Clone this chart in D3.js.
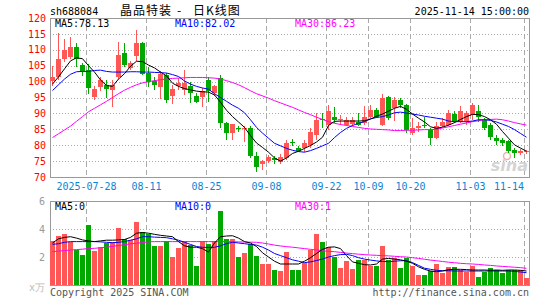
<!DOCTYPE html>
<html>
<head>
<meta charset="utf-8">
<script src="https://cdn.jsdelivr.net/npm/d3@7"></script>
<style>
  body { margin: 0; background: #fff; }
  text { font-family: "DejaVu Sans Mono", monospace; font-size: 10px; }
</style>
</head>
<body>
<script>
// daily K line, sh688084, 2025-07-18 .. 2025-11-14
var dates = [
  "2025-07-18","2025-07-21","2025-07-22","2025-07-23","2025-07-24","2025-07-25","2025-07-28","2025-07-29","2025-07-30","2025-07-31",
  "2025-08-01","2025-08-04","2025-08-05","2025-08-06","2025-08-07","2025-08-08","2025-08-11","2025-08-12","2025-08-13","2025-08-14",
  "2025-08-15","2025-08-18","2025-08-19","2025-08-20","2025-08-21","2025-08-22","2025-08-25","2025-08-26","2025-08-27","2025-08-28",
  "2025-08-29","2025-09-01","2025-09-02","2025-09-03","2025-09-04","2025-09-05","2025-09-08","2025-09-09","2025-09-10","2025-09-11",
  "2025-09-12","2025-09-15","2025-09-16","2025-09-17","2025-09-18","2025-09-19","2025-09-22","2025-09-23","2025-09-24","2025-09-25",
  "2025-09-26","2025-09-29","2025-09-30","2025-10-09","2025-10-10","2025-10-13","2025-10-14","2025-10-15","2025-10-16","2025-10-17",
  "2025-10-20","2025-10-21","2025-10-22","2025-10-23","2025-10-24","2025-10-27","2025-10-28","2025-10-29","2025-10-30","2025-10-31",
  "2025-11-03","2025-11-04","2025-11-05","2025-11-06","2025-11-07","2025-11-10","2025-11-11","2025-11-12","2025-11-13","2025-11-14"
];

var open = [100.2,101.6,107.2,107.7,110.9,105.3,103.5,95.1,98.4,98.8,
  97.5,101.5,109.0,104.2,108.0,112.2,102.7,100.3,98.3,102.0,
  95.5,98.6,97.4,98.5,95.5,95.1,100.5,96.4,101.0,86.9,
  83.8,85.5,85.0,85.3,76.6,74.1,75.0,75.9,74.8,75.9,
  81.0,79.0,79.0,80.1,83.2,88.2,86.4,89.0,87.8,86.5,
  86.6,87.2,87.0,89.0,91.1,86.5,95.3,91.6,94.3,92.7,
  83.8,85.3,86.4,84.8,82.2,86.1,86.4,89.8,87.4,87.5,
  89.5,90.6,88.0,86.4,82.4,81.7,81.3,78.5,77.7,77.9];
var high = [104.8,115.3,113.4,114.0,112.2,105.8,105.5,98.5,101.5,100.5,
  100.5,112.6,112.0,106.5,116.3,112.5,104.7,101.6,103.3,102.8,
  99.0,101.0,103.7,100.0,96.5,98.0,101.5,99.0,102.0,87.3,
  86.8,86.0,86.0,86.1,78.0,75.5,77.0,76.7,77.1,81.7,
  82.0,79.9,81.7,85.3,90.1,90.0,92.7,92.0,89.5,89.0,
  89.0,90.1,92.2,92.7,91.6,96.2,95.5,95.3,94.8,93.0,
  88.5,87.4,89.0,85.3,87.4,88.5,91.1,90.6,92.2,90.6,
  93.2,92.7,88.5,86.9,83.2,82.2,81.7,79.0,78.8,78.6];
var low = [98.7,100.6,106.3,107.0,104.5,101.7,96.0,94.3,97.2,95.0,
  92.0,100.8,104.5,103.5,106.5,102.0,98.4,97.4,94.5,93.3,
  93.0,97.5,95.8,93.2,93.3,92.0,93.5,95.5,85.3,81.5,
  81.5,84.0,81.0,76.0,71.7,72.3,74.3,74.0,74.0,75.3,
  79.8,78.0,78.0,79.0,81.7,85.3,84.8,87.0,86.4,85.9,
  86.0,85.9,86.4,88.5,88.5,85.9,88.0,87.5,91.6,83.8,
  83.2,84.3,85.3,80.1,82.0,85.8,85.9,86.9,86.9,86.4,
  88.0,87.4,84.8,81.7,80.0,79.6,77.4,75.9,76.9,77.1];
var close = [101.4,107.1,110.0,110.9,107.2,103.3,97.9,97.6,100.5,97.8,
  99.0,108.4,105.3,105.8,112.2,102.5,100.0,99.0,102.5,94.3,
  97.6,99.5,99.5,96.3,93.7,97.0,97.2,98.5,87.0,83.8,
  86.6,85.0,85.5,76.6,73.2,75.1,76.4,75.5,76.4,80.6,
  80.6,78.2,80.6,84.1,88.0,87.8,90.6,88.0,88.3,88.0,
  88.0,86.5,89.0,91.1,89.0,94.8,88.5,94.3,92.5,84.8,
  85.3,86.1,85.9,82.2,86.1,87.4,90.1,87.4,90.6,90.1,
  92.7,89.0,85.3,82.7,81.3,80.6,78.2,77.5,78.3,78.1];

// moving averages
var ma5 = [99.2,101.5,104.0,106.5,107.5,107.2,105.0,103.0,100.5,98.8,
  98.5,100.8,102.5,104.8,106.4,106.3,105.2,104.3,103.0,101.8,
  99.5,98.5,97.8,97.4,97.0,96.8,96.7,95.8,93.5,91.0,
  89.0,87.3,85.6,83.0,80.7,79.3,77.8,76.0,75.0,76.0,
  77.4,78.1,79.0,79.9,81.0,82.5,86.2,87.5,87.6,87.6,
  87.6,87.6,87.7,88.2,89.1,89.8,90.7,91.6,92.2,91.3,
  89.8,88.5,87.3,85.8,85.3,85.7,86.3,87.1,88.1,89.0,
  89.7,89.6,89.0,88.0,86.6,84.3,82.2,80.1,79.1,78.1];
var ma10 = [97.2,99.0,100.8,102.3,103.1,103.2,103.2,103.5,103.6,103.2,
  103.0,103.0,103.0,103.1,103.1,103.0,103.0,102.9,102.8,102.7,
  102.2,101.6,100.2,99.2,98.5,98.0,97.6,96.2,95.0,93.8,
  92.6,91.6,90.2,88.0,85.6,83.8,82.2,80.6,79.8,79.0,
  78.4,78.0,77.8,78.3,79.0,79.8,80.6,82.4,84.0,85.3,
  86.2,86.9,87.4,88.3,88.7,89.0,89.5,90.2,90.4,90.1,
  89.8,89.5,89.1,88.8,88.5,88.2,87.6,87.4,87.4,87.4,
  87.6,88.0,88.0,87.8,87.3,86.6,85.9,84.9,83.7,82.5];
var ma30 = [82.4,83.6,84.8,86.0,87.5,89.0,90.5,91.6,92.7,93.8,
  95.0,96.2,97.3,98.2,99.0,99.6,100.0,100.3,100.6,100.8,
  101.0,101.1,101.2,101.3,101.3,101.3,101.2,101.1,100.8,100.3,
  99.7,99.0,98.1,97.1,96.2,95.5,94.8,94.0,93.3,92.6,
  91.9,91.1,90.3,89.6,88.8,88.1,87.4,86.9,86.5,86.2,
  85.9,85.6,85.3,85.1,85.0,84.9,84.8,84.6,84.6,84.7,
  84.7,84.8,84.9,84.9,85.0,85.4,85.8,86.2,86.6,87.0,
  87.4,87.7,88.0,88.1,88.2,88.0,87.6,87.1,86.7,86.3];

// volume (x10k)
var volume = [3.14,3.5,3.64,3.1,2.5,2.14,4.29,2.43,2.74,2.98,
  3.1,4.1,3.26,3.21,4.52,3.76,3.64,2.79,2.79,3.14,
  2.02,2.62,3.14,2.86,1.38,3.14,2.93,3.14,5.31,3.29,
  3.29,2.02,2.31,2.9,2.09,1.5,1.5,1.07,1.0,2.38,
  1.1,1.07,1.55,2.5,3.64,3.05,2.74,2.02,1.24,1.71,
  1.14,1.79,1.76,1.36,1.38,2.81,1.79,1.9,1.24,1.9,
  1.38,0.71,0.71,1.0,1.48,0.83,1.26,1.3,1.1,0.95,
  1.36,0.55,0.9,1.25,1.07,0.85,1.07,1.07,1.07,0.52];
var vma5 = [3.0,3.3,3.4,3.45,3.35,3.22,3.15,3.1,3.15,3.2,
  3.2,3.22,3.25,3.4,3.7,3.75,3.7,3.62,3.55,3.5,
  3.45,3.1,2.8,2.7,2.7,2.6,2.35,3.0,3.45,3.5,
  3.52,3.35,3.1,3.0,2.75,2.3,2.0,1.7,1.5,1.5,
  1.5,1.5,1.7,1.95,2.25,2.55,2.7,2.72,2.6,2.1,
  1.65,1.55,1.45,1.43,1.5,1.85,1.9,1.85,1.8,1.7,
  1.55,1.3,1.12,1.0,0.95,1.0,1.1,1.12,1.12,1.1,
  1.07,1.07,1.07,1.05,1.07,1.05,1.07,1.07,1.05,1.0];
var vma10 = [2.9,2.95,3.05,3.1,3.1,3.1,3.1,3.1,3.08,3.05,
  3.02,3.05,3.1,3.2,3.3,3.45,3.45,3.42,3.4,3.38,
  3.3,3.2,3.05,2.9,2.75,2.69,2.69,2.69,2.8,2.95,
  3.05,3.0,2.95,2.9,2.85,2.7,2.5,2.25,2.1,1.95,
  1.8,1.7,1.6,1.65,1.75,1.85,2.0,2.1,2.17,2.19,
  2.1,1.95,1.85,1.78,1.72,1.68,1.67,1.7,1.73,1.74,
  1.6,1.4,1.2,1.12,1.05,1.02,1.02,1.0,1.0,1.0,
  1.0,1.0,1.0,1.0,1.0,1.0,1.0,0.97,0.93,0.88];
var vma30 = [2.38,2.42,2.46,2.5,2.53,2.56,2.6,2.62,2.66,2.7,
  2.76,2.82,2.88,2.94,2.98,3.03,3.08,3.1,3.1,3.1,
  3.1,3.1,3.1,3.1,3.1,3.1,3.1,3.1,3.1,3.1,
  3.09,3.08,3.07,3.06,3.05,3.0,2.93,2.85,2.79,2.74,
  2.7,2.65,2.6,2.55,2.5,2.45,2.4,2.38,2.33,2.28,
  2.24,2.2,2.17,2.14,2.12,2.1,2.08,2.05,2.02,2.0,
  1.95,1.9,1.84,1.78,1.73,1.68,1.63,1.59,1.55,1.52,
  1.5,1.47,1.43,1.4,1.36,1.33,1.3,1.27,1.24,1.19];

var priceTicks = [70,75,80,85,90,95,100,105,110,115,120];
var volTicks = [2,4,6];
var dateTicks = ["2025-07-28","2025-08-11","2025-08-25","2025-09-08","2025-09-22","2025-10-09","2025-10-20","2025-11-03","2025-11-14"];
var dateLabels = ["2025-07-28","08-11","08-25","09-08","09-22","10-09","10-20","11-03","11-14"];

var red = "#ff5656", green = "#00a800", grid = "#aaaaaa";

var svg = d3.select("body").append("svg")
    .attr("width", 545)
    .attr("height", 300);

// scales
var x = d3.scaleBand().domain(dates).range([50, 530]);
var y = d3.scaleLinear().domain([70, 120]).range([177, 18]);
var yv = d3.scaleLinear().domain([0, 6]).range([285, 201]);
var bw = x.bandwidth() - 1;
var mid = function(d){ return Math.round(x(d)) + 2.5; };

// ---- header
svg.append("text").attr("x", 50).attr("y", 15).text("sh688084");
var title = svg.append("text").attr("y", 15)
    .style("font-family", "'Noto Sans CJK SC', sans-serif").style("font-size", "12px");
title.append("tspan").attr("x", 120).style("letter-spacing", "1px").text("晶品特装");
title.append("tspan").attr("x", 177).text("-");
title.append("tspan").attr("x", 193).style("letter-spacing", "1px").text("日K线图");
svg.append("text").attr("x", 529).attr("y", 15).attr("text-anchor", "end").text("2025-11-14 15:00:00");

// ---- grids
function panelGrid(ys, top, bottom) {
    var g = svg.append("g").attr("shape-rendering", "crispEdges");
    g.selectAll(".h").data(ys).enter().append("line")
        .attr("x1", 50).attr("x2", 529)
        .attr("y1", function(d){ return Math.round(d) + 0.5; })
        .attr("y2", function(d){ return Math.round(d) + 0.5; })
        .attr("stroke", grid).attr("stroke-dasharray", "1,2");
    g.selectAll(".v").data(dateTicks).enter().append("line")
        .attr("x1", function(d){ return Math.round(x(d)) + 0.5; })
        .attr("x2", function(d){ return Math.round(x(d)) + 0.5; })
        .attr("y1", top).attr("y2", bottom)
        .attr("stroke", grid).attr("stroke-dasharray", "5,3");
}
panelGrid(priceTicks.slice(1, -1).map(y), 18, 177);
panelGrid(volTicks.slice(0, -1).map(yv), 201, 285);

// frames
svg.append("rect").attr("x", 50.5).attr("y", 18.5).attr("width", 479).attr("height", 159)
    .attr("fill", "none").attr("stroke", "#999");
svg.append("rect").attr("x", 50.5).attr("y", 201.5).attr("width", 479).attr("height", 84)
    .attr("fill", "none").attr("stroke", "#999");

// ---- axis labels
svg.selectAll(".py").data(priceTicks).enter().append("text")
    .attr("x", 46).attr("y", function(d){ return y(d) + 3.6; })
    .attr("text-anchor", "end").attr("fill", "#ff0000").text(function(d){ return d; });
svg.selectAll(".vy").data(volTicks).enter().append("text")
    .attr("x", 45).attr("y", function(d){ return yv(d) + 3.6; })
    .attr("text-anchor", "end").attr("fill", "#999").text(function(d){ return d; });
svg.append("text").attr("x", 29).attr("y", 291).attr("fill", "#bbb").text("x万");

svg.selectAll(".dl").data(dateTicks).enter().append("text")
    .attr("x", function(d, i){
        var w = dateLabels[i].length * 6;
        var cx = Math.round(x(d)) + 0.5;
        return Math.min(cx, 524 - w / 2);
    })
    .attr("y", 190).attr("text-anchor", "middle").attr("fill", "#0a84d6")
    .text(function(d, i){ return dateLabels[i]; });

// ---- watermark
svg.append("circle").attr("cx", 507).attr("cy", 156).attr("r", 3.5)
    .attr("fill", "none").attr("stroke", "#f3b0b0").attr("stroke-width", 1.5);
svg.append("text").attr("x", 528).attr("y", 171).attr("text-anchor", "end")
    .style("font-family", "'DejaVu Sans', sans-serif").style("font-size", "16px")
    .style("font-weight", "bold").style("font-style", "italic")
    .attr("fill", "#d4d4d4").text("sina");

// ---- candles
var cg = svg.append("g").attr("shape-rendering", "crispEdges");
var col = function(i){ return close[i] >= open[i] ? red : green; };
cg.selectAll(".wick").data(dates).enter().append("line")
    .attr("x1", mid).attr("x2", mid)
    .attr("y1", function(d, i){ return y(high[i]); })
    .attr("y2", function(d, i){ return y(low[i]); })
    .attr("stroke", function(d, i){ return col(i); });
cg.selectAll(".body").data(dates).enter().append("rect")
    .attr("x", function(d){ return Math.round(x(d)); })
    .attr("width", bw)
    .attr("y", function(d, i){ return y(Math.max(open[i], close[i])); })
    .attr("height", function(d, i){ return Math.max(1, Math.abs(y(open[i]) - y(close[i]))); })
    .attr("fill", function(d, i){ return col(i); });

// ---- volume bars
cg.selectAll(".vol").data(dates).enter().append("rect")
    .attr("x", function(d){ return Math.round(x(d)); })
    .attr("width", bw)
    .attr("y", function(d, i){ return yv(volume[i]); })
    .attr("height", function(d, i){ return yv(0) - yv(volume[i]); })
    .attr("fill", function(d, i){ return col(i); });

// ---- moving average lines
function maLine(vals, scale, color) {
    var line = d3.line()
        .x(function(d, i){ return mid(dates[i]); })
        .y(function(d){ return scale(d); });
    svg.append("path").datum(vals).attr("d", line)
        .attr("fill", "none").attr("stroke", color).attr("stroke-width", 1);
}
maLine(ma30, y, "#ff00ff");
maLine(ma10, y, "#0000ff");
maLine(ma5, y, "#000000");
maLine(vma30, yv, "#ff00ff");
maLine(vma10, yv, "#0000ff");
maLine(vma5, yv, "#000000");

// ---- MA legends
svg.append("text").attr("x", 55).attr("y", 27).attr("fill", "#000").text("MA5:78.13");
svg.append("text").attr("x", 175).attr("y", 27).attr("fill", "#0000ff").text("MA10:82.02");
svg.append("text").attr("x", 295).attr("y", 27).attr("fill", "#ff00ff").text("MA30:86.23");
svg.append("text").attr("x", 55).attr("y", 210).attr("fill", "#000").text("MA5:0");
svg.append("text").attr("x", 175).attr("y", 210).attr("fill", "#0000ff").text("MA10:0");
svg.append("text").attr("x", 295).attr("y", 210).attr("fill", "#ff00ff").text("MA30:1");

// ---- footer
svg.append("text").attr("x", 50).attr("y", 296).attr("fill", "#555").text("Copyright 2025 SINA.COM");
svg.append("text").attr("x", 529).attr("y", 296).attr("text-anchor", "end").attr("fill", "#555")
    .text("http://finance.sina.com.cn");
</script>
</body>
</html>
